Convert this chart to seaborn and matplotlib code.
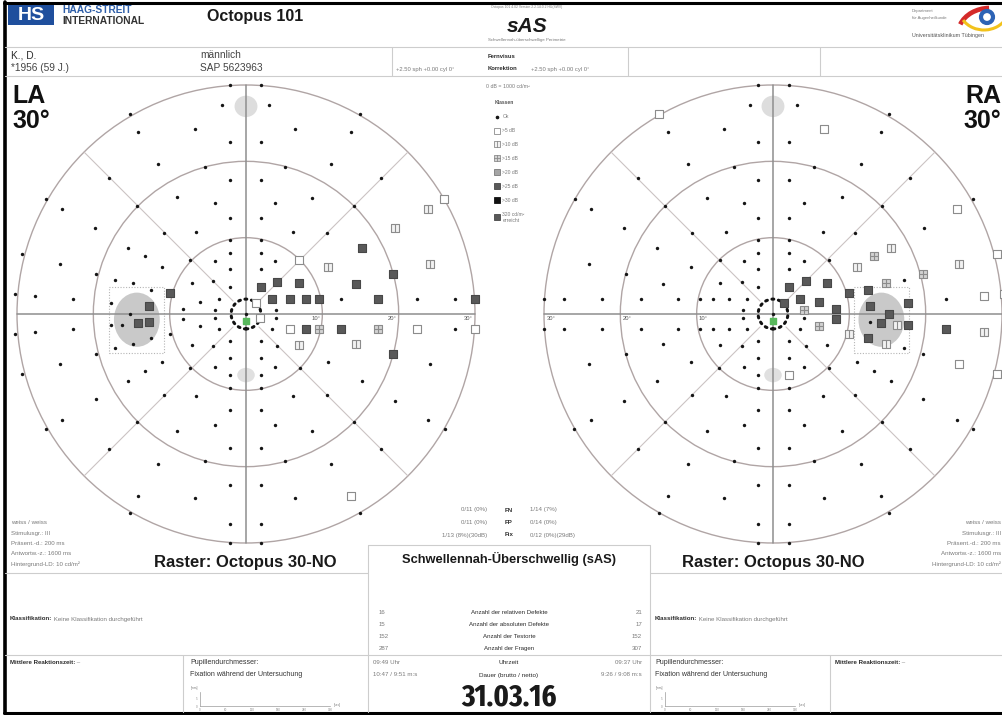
import os
import matplotlib
matplotlib.use("Agg")
import numpy as np
import pandas as pd
import matplotlib.pyplot as plt
import seaborn as sns
from matplotlib.patches import Circle, Ellipse, Rectangle, Arc
from matplotlib.lines import Line2D
from matplotlib.path import Path
from matplotlib import font_manager
from matplotlib.font_manager import FontProperties

# ---------------------------------------------------------------- data
# test locations in degrees (x = horizontal, y = vertical); class codes:
# 1 = >5 dB, 2 = >10 dB, 3 = >15 dB, 5 = >25 dB
LA_OK = [
    (1.9, 30.0), (-2.1, 30.0), (3.0, 27.4), (-3.1, 27.4), (1.9, 22.5), (-2.1, 22.5),
    (1.9, 17.5), (-2.1, 17.5), (1.9, 12.6), (-2.1, 12.6), (1.9, 9.7), (-2.1, 9.7),
    (1.9, 8.0), (-2.1, 8.0), (1.9, 5.9), (-2.1, 5.9), (-2.1, 3.6), (0.0, 0.0),
    (1.9, -3.6), (-2.1, -3.6), (1.9, -5.8), (-2.1, -5.8), (1.9, -8.0), (-2.1, -8.0),
    (1.9, -9.7), (-2.1, -9.7), (1.9, -12.6), (-2.1, -12.6), (1.9, -17.5), (-2.1, -17.5),
    (1.9, -22.4), (-2.1, -22.4), (1.9, -27.5), (-2.1, -27.5), (1.9, -30.0), (-2.1, -30.0),
    (14.9, 26.2), (6.4, 24.2), (13.8, 23.8), (5.1, 19.3), (11.2, 19.6), (17.7, 17.8),
    (3.8, 14.5), (8.7, 15.2), (14.1, 14.1), (6.1, 10.8), (10.6, 10.6), (3.8, 6.9),
    (12.4, 2.0), (22.4, 2.0), (27.4, 2.0), (3.9, 0.5),
    (3.4, -2.0), (27.4, -2.0), (3.9, -0.5), (4.1, -4.2), (3.8, -6.9), (7.1, -7.1),
    (10.8, -6.3), (24.1, -6.5), (15.2, -8.8), (6.2, -10.8), (10.6, -10.6), (19.5, -11.4),
    (3.8, -14.6), (8.7, -15.3), (14.1, -14.2), (23.8, -13.9), (26.1, -15.1), (5.1, -19.3),
    (11.1, -19.6), (17.7, -17.7), (6.4, -24.1), (14.9, -26.1),
    (-15.2, 26.2), (-6.7, 24.2), (-14.1, 23.8), (-5.4, 19.3), (-11.5, 19.6), (-17.9, 17.8),
    (-26.2, 15.1), (-24.1, 13.8), (-4.1, 14.5), (-9.0, 15.3), (-14.3, 14.1), (-6.5, 10.8),
    (-10.8, 10.6), (-19.8, 11.3), (-15.4, 8.7), (-4.1, 6.9), (-7.3, 7.1), (-11.0, 6.2),
    (-13.2, 7.6), (-24.4, 6.6), (-29.4, 7.9), (-19.6, 5.2), (-17.2, 4.5), (-14.8, 4.0),
    (-12.4, 3.2), (-7.1, 4.1), (-4.3, 4.3), (-3.6, 2.0), (-6.0, 1.6), (-8.2, 0.7),
    (-4.1, 0.5), (-17.7, 1.5), (-22.6, 2.0), (-27.7, 2.4), (-30.2, 2.6), (-15.2, 0.0),
    (-3.6, -2.0), (-6.0, -1.6), (-8.2, -0.7), (-4.1, -0.5), (-9.9, -2.6), (-12.4, -3.1),
    (-16.2, -1.4), (-17.7, -1.5), (-14.8, -3.9), (-17.2, -4.5), (-22.6, -2.0), (-27.7, -2.4),
    (-30.2, -2.6), (-7.1, -4.0), (-4.3, -4.2), (-4.1, -6.9), (-7.3, -7.1), (-11.0, -6.3),
    (-13.2, -7.5), (-15.4, -8.8), (-19.6, -5.2), (-24.4, -6.5), (-29.4, -7.8), (-6.5, -10.8),
    (-10.8, -10.6), (-19.6, -11.2), (-4.1, -14.6), (-9.0, -15.3), (-14.3, -14.2), (-24.1, -13.9),
    (-26.2, -15.1), (-5.4, -19.3), (-11.5, -19.6), (-17.9, -17.7), (-6.7, -24.1), (-14.1, -23.9),
    (-15.2, -26.1),
]
LA_DEFECTS = [
    (1.9, 3.6, 5), (1.3, 1.4, 1), (1.8, -0.5, 1),
    (26.0, 15.1, 1), (23.8, 13.8, 2), (19.5, 11.3, 2), (15.2, 8.7, 5), (7.0, 7.1, 1),
    (10.7, 6.2, 2), (24.1, 6.6, 2), (4.1, 4.2, 5), (6.9, 4.0, 5), (14.4, 3.9, 5), (19.3, 5.2, 5),
    (3.4, 2.0, 5), (5.7, 2.0, 5), (7.9, 2.0, 5), (9.6, 2.0, 5), (17.3, 2.0, 5), (30.0, 2.0, 5),
    (5.7, -2.0, 1), (7.9, -2.0, 5), (9.6, -2.0, 3), (12.4, -2.0, 5), (17.3, -2.0, 3),
    (22.4, -2.0, 1), (30.0, -2.0, 1), (6.9, -4.0, 2), (14.4, -3.9, 2), (19.3, -5.2, 5),
    (13.8, -23.9, 1),
    (-9.9, 2.7, 5), (-12.7, 1.1, 5), (-12.7, -1.0, 5), (-14.1, -1.2, 5),
]
RA_OK = [
    (-1.9, 30.0), (2.1, 30.0), (-3.0, 27.4), (3.1, 27.4), (-1.9, 22.5), (2.1, 22.5),
    (-1.9, 17.5), (2.1, 17.5), (-1.9, 12.6), (2.1, 12.6), (-1.9, 9.7), (2.1, 9.7),
    (-1.9, 8.0), (2.1, 8.0), (-1.9, 5.9), (2.1, 5.9), (-1.9, 3.6), (0.0, 0.0),
    (-1.9, -3.6), (2.1, -3.6), (-1.9, -5.8), (2.1, -5.8), (-1.9, -8.0),
    (-1.9, -9.7), (2.1, -9.7), (-1.9, -12.6), (2.1, -12.6), (-1.9, -17.5), (2.1, -17.5),
    (-1.9, -22.4), (2.1, -22.4), (-1.9, -27.5), (2.1, -27.5), (-1.9, -30.0), (2.1, -30.0),
    (-6.4, 24.2), (-13.8, 23.8), (-5.1, 19.3), (-11.2, 19.6), (-17.7, 17.8), (-26.0, 15.1),
    (-23.8, 13.8), (-3.8, 14.5), (-8.7, 15.2), (-14.1, 14.1), (-6.1, 10.8), (-10.6, 10.6),
    (-19.5, 11.3), (-15.2, 8.7), (-3.8, 6.9), (-7.0, 7.1), (-10.7, 6.2), (-24.1, 6.6),
    (-4.1, 4.2), (-6.9, 4.0), (-14.4, 3.9), (-19.3, 5.2),
    (-3.4, 2.0), (-5.7, 2.0), (-7.9, 2.0), (-9.6, 2.0), (-12.4, 2.0), (-17.3, 2.0),
    (-22.4, 2.0), (-27.4, 2.0), (-30.0, 2.0), (-3.9, 0.5),
    (-3.4, -2.0), (-5.7, -2.0), (-7.9, -2.0), (-9.6, -2.0), (-12.4, -2.0), (-17.3, -2.0),
    (-22.4, -2.0), (-27.4, -2.0), (-30.0, -2.0), (-3.9, -0.5),
    (-4.1, -4.2), (-6.9, -4.0), (-14.4, -3.9), (-19.3, -5.2), (-3.8, -6.9), (-7.1, -7.1),
    (-10.8, -6.3), (-24.1, -6.5), (-15.2, -8.8), (-6.2, -10.8), (-10.6, -10.6), (-19.5, -11.4),
    (-3.8, -14.6), (-8.7, -15.3), (-14.1, -14.2), (-23.8, -13.9), (-26.1, -15.1), (-5.1, -19.3),
    (-11.1, -19.6), (-17.7, -17.7), (-6.4, -24.1), (-13.8, -23.9), (-14.9, -26.1),
    (15.2, 26.2), (14.1, 23.8), (5.4, 19.3), (11.5, 19.6), (17.9, 17.8), (26.2, 15.1),
    (4.1, 14.5), (9.0, 15.3), (14.3, 14.1), (6.5, 10.8), (10.8, 10.6), (19.8, 11.3),
    (4.1, 6.9), (7.3, 7.1), (17.2, 4.5), (22.6, 2.0),
    (3.6, -2.0), (4.1, -0.5), (12.7, -1.0), (17.2, -4.5), (30.2, -2.6), (7.1, -4.0),
    (4.3, -4.2), (4.1, -6.9), (7.3, -7.1), (11.0, -6.3), (13.2, -7.5), (15.4, -8.8),
    (19.6, -5.2), (6.5, -10.8), (10.8, -10.6), (19.6, -11.2), (4.1, -14.6), (9.0, -15.3),
    (14.3, -14.2), (24.1, -13.9), (26.2, -15.1), (5.4, -19.3), (11.5, -19.6), (17.9, -17.7),
    (6.7, -24.1), (14.1, -23.9), (15.2, -26.1),
]
RA_DEFECTS = [
    (2.1, 3.6, 5), (2.1, -8.0, 1), (1.4, 1.4, 5), (-14.9, 26.2, 1),
    (6.7, 24.2, 1), (24.1, 13.8, 1), (15.4, 8.7, 2), (11.0, 6.2, 2), (13.2, 7.6, 3),
    (24.4, 6.6, 2), (29.4, 7.9, 1), (19.6, 5.2, 3), (14.8, 4.0, 3), (12.4, 3.2, 5),
    (9.9, 2.7, 5), (7.1, 4.1, 5), (4.3, 4.3, 5), (3.6, 2.0, 5), (6.0, 1.6, 5),
    (8.2, 0.7, 5), (4.1, 0.5, 3), (12.7, 1.1, 5), (17.7, 1.5, 5), (27.7, 2.4, 1),
    (30.2, 2.6, 1), (15.2, 0.0, 5),
    (6.0, -1.6, 3), (8.2, -0.7, 5), (9.9, -2.6, 2), (12.4, -3.1, 5), (14.1, -1.2, 5),
    (16.2, -1.4, 2), (17.7, -1.5, 5), (14.8, -3.9, 2), (22.6, -2.0, 5), (27.7, -2.4, 2),
    (24.4, -6.5, 1), (29.4, -7.8, 1),
]

CLASS_LABELS = ["Ok", ">5 dB", ">10 dB", ">15 dB", ">20 dB", ">25 dB", ">30 dB"]
STIM_INFO = ["weiss / weiss", "Stimulusgr.: III", "Präsent.-d.: 200 ms",
             "Antwortw.-z.: 1600 ms", "Hintergrund-LD: 10 cd/m²"]
STAT_LABELS = ["Anzahl der relativen Defekte", "Anzahl der absoluten Defekte",
               "Anzahl der Testorte", "Anzahl der Fragen"]
STAT_LA = ["16", "15", "152", "287"]
STAT_RA = ["21", "17", "152", "307"]
RELIAB_LA = ["0/11 (0%)", "0/11 (0%)", "1/13 (8%)(30dB)"]
RELIAB_KEYS = ["FN", "FP", "Fix"]
RELIAB_RA = ["1/14 (7%)", "0/14 (0%)", "0/12 (0%)(29dB)"]

# ---------------------------------------------------------------- style
W, H = 1003, 715
sns.set_theme(style="white")
plt.rcParams["font.family"] = ["Liberation Sans", "DejaVu Sans"]
plt.rcParams["axes.unicode_minus"] = False


def narrow_bold_font():
    """Pick the narrowest installed bold sans face for the date line."""
    best = None
    for f in font_manager.fontManager.ttflist:
        base = os.path.basename(f.fname).lower().replace("-", "").replace("_", "")
        if "bold" not in base or any(w in base for w in
                                     ("italic", "oblique", "extrabold", "semibold",
                                      "ultrabold", "demibold", "mono", "serif")):
            continue
        if "extracondensed" in base:
            rank = 0
        elif "narrow" in base:
            rank = 1
        elif "semicondensed" in base:
            rank = 3
        elif "condensed" in base:
            rank = 2
        else:
            continue
        if best is None or rank < best[0]:
            best = (rank, f.fname)
    if best is None:
        return FontProperties(family="Liberation Sans", weight="bold")
    return FontProperties(fname=best[1])


GREY_TXT = "#7a7a7a"
DARK_TXT = "#2b2b2b"
LINE = "#cdcdcd"

_sq = [(-.5, -.5), (.5, -.5), (.5, .5), (-.5, .5), (-.5, -.5)]
_sqc = [Path.MOVETO, Path.LINETO, Path.LINETO, Path.LINETO, Path.CLOSEPOLY]
MARK_10 = Path(_sq + [(0, -.5), (0, .5)], _sqc + [Path.MOVETO, Path.LINETO])
MARK_15 = Path(_sq + [(0, -.5), (0, .5), (-.5, 0), (.5, 0)],
               _sqc + [Path.MOVETO, Path.LINETO, Path.MOVETO, Path.LINETO])
CLASS_STYLE = {
    1: dict(marker="s", fc="white", ec="#8c8c8c"),
    2: dict(marker=MARK_10, fc="#f2f2f2", ec="#8c8c8c"),
    3: dict(marker=MARK_15, fc="#d2d2d2", ec="#8c8c8c"),
    4: dict(marker="s", fc="#a5a5a5", ec="#7a7a7a"),
    5: dict(marker="s", fc="#595959", ec="#474747"),
    6: dict(marker="s", fc="#111111", ec="#111111"),
}

fig = plt.figure(figsize=(W / 100, H / 100), dpi=100)
fig.patch.set_facecolor("white")
page = fig.add_axes([0, 0, 1, 1])
page.set_xlim(0, W)
page.set_ylim(H, 0)
page.axis("off")

SCALE = 229 / 30.0  # pixels per degree


def field_axes(cx, cy, x0, x1, y0, y1):
    ax = fig.add_axes([x0 / W, 1 - y1 / H, (x1 - x0) / W, (y1 - y0) / H])
    ax.set_xlim((x0 - cx) / SCALE, (x1 - cx) / SCALE)
    ax.set_ylim((cy - y1) / SCALE, (cy - y0) / SCALE)
    ax.axis("off")
    ax.patch.set_alpha(0)
    return ax


def draw_field(ax, ok, defects, blind_x, side):
    ok_df = pd.DataFrame(ok, columns=["x", "y"])
    df = pd.DataFrame(defects, columns=["x", "y", "k"])
    # faint grey helper zones
    ax.add_patch(Ellipse((0, 27.2), 3.0, 2.8, fc="#dddddd", ec="none", zorder=0))
    ax.add_patch(Ellipse((0, -8.0), 2.3, 1.9, fc="#e0e0e0", ec="none", zorder=0))
    ax.add_patch(Ellipse((blind_x, -0.75), 6.0, 7.1, fc="#c9c9c9", ec="none", zorder=0))
    rx = blind_x - 3.6
    ax.add_patch(Rectangle((rx, -5.1), 7.2, 8.7, fill=False, ec="#b5b5b5",
                           ls=(0, (1, 1.5)), lw=0.8, zorder=1))
    for r in (10, 20, 30):
        ax.add_patch(Circle((0, 0), r, fill=False, ec="#b0a5a5", lw=1.0, zorder=1))
    for ang in (45, 135, 225, 315):
        t = np.deg2rad(ang)
        ax.plot([2.4 * np.cos(t), 30 * np.cos(t)], [2.4 * np.sin(t), 30 * np.sin(t)],
                color="#cbc3c3", lw=0.8, zorder=1)
    ax.plot([-30, 30], [0, 0], color="#8e8e8e", lw=1.1, zorder=2)
    ax.plot([0, 0], [-30, 30], color="#8e8e8e", lw=1.1, zorder=2)
    ax.add_patch(Circle((0, 0), 1.95, fill=False, ec="#111111", lw=2.2,
                        ls=(0, (0.6, 1.55)), capstyle="round", zorder=4))
    for r in (10, 20, 30):
        if side == "right":
            ax.text(r - 0.3, -0.3, f"{r}°", ha="right", va="top", fontsize=4.2,
                    color="#555555", zorder=3)
        else:
            ax.text(-r + 0.3, -0.3, f"{r}°", ha="left", va="top", fontsize=4.2,
                    color="#555555", zorder=3)
    sns.scatterplot(data=ok_df, x="x", y="y", ax=ax, marker="o", s=6,
                    color="#151515", linewidth=0, legend=False, zorder=5)
    for k, sub in df.groupby("k"):
        st = CLASS_STYLE[k]
        sns.scatterplot(data=sub, x="x", y="y", ax=ax, marker=st["marker"], s=34,
                        color=st["fc"], edgecolor=st["ec"], linewidth=0.8,
                        legend=False, zorder=6)
    ax.scatter([0], [-0.9], marker="s", s=14, color="#58b85c", zorder=7)
    ax.set_xlabel("")
    ax.set_ylabel("")


ax_la = field_axes(246, 314, 8, 486, 80, 548)
draw_field(ax_la, LA_OK, LA_DEFECTS, -14.3, "right")
ax_ra = field_axes(773, 314, 535, 1003, 80, 548)
draw_field(ax_ra, RA_OK, RA_DEFECTS, 14.2, "left")

# ---------------------------------------------------------------- page frame
page.plot([4, W], [2.5, 2.5], color="black", lw=2.2, zorder=1)
page.plot([5, 5], [2, 713], color="black", lw=2.6, zorder=1)
page.plot([4, W], [712.5, 712.5], color="black", lw=2.2, zorder=1)
page.plot([5, W], [47, 47], color=LINE, lw=0.8)
page.plot([5, W], [76, 76], color=LINE, lw=0.8)
for xv in (392, 628, 820):
    page.plot([xv, xv], [47, 76], color=LINE, lw=0.8)
page.plot([5, 368], [573, 573], color=LINE, lw=0.8)
page.plot([650, W], [573, 573], color=LINE, lw=0.8)
page.plot([368, 650], [545, 545], color=LINE, lw=0.8)
page.plot([368, 368], [545, 712], color=LINE, lw=0.8)
page.plot([650, 650], [545, 712], color=LINE, lw=0.8)
page.plot([5, W], [655, 655], color=LINE, lw=0.8)
page.plot([183, 183], [655, 712], color=LINE, lw=0.8)
page.plot([830, 830], [655, 712], color=LINE, lw=0.8)

# ---------------------------------------------------------------- header
page.add_patch(Rectangle((8, 5), 46, 20, fc="#1f4f9d", ec="none"))
page.text(31, 15.5, "HS", color="white", fontsize=14, fontweight="bold",
          ha="center", va="center")
page.text(62, 10, "HAAG-STREIT", color="#2e5ea8", fontsize=7.4, fontweight="bold",
          va="center")
page.text(62, 20.5, "INTERNATIONAL", color="#333333", fontsize=7.4, fontweight="bold",
          va="center")
page.text(207, 17, "Octopus 101", color="#1a1a1a", fontsize=11.5, fontweight="bold",
          va="center")
page.text(527, 7, "Octopus 101 4.02 Version 2.2.14.0.2 HU(SWV)", color=GREY_TXT,
          fontsize=2.4, ha="center", va="center")
page.text(527, 27, "sAS", color="#1a1a1a", fontsize=15, fontweight="bold",
          style="italic", ha="center", va="center")
page.text(527, 40, "Schwellennah-überschwellige Perimetrie", color=GREY_TXT,
          fontsize=3.2, ha="center", va="center")
# university logo
page.add_patch(Arc((990, 34), 64, 52, theta1=198, theta2=268, color="#d42a2a", lw=3.4))
page.add_patch(Circle((987, 17), 6.0, fill=False, ec="#2d63b5", lw=3.0))
page.add_patch(Arc((984, 8), 50, 44, theta1=25, theta2=150, color="#f2c21b", lw=2.2))
page.text(912, 11, "Department", color=GREY_TXT, fontsize=3.0, va="center")
page.text(912, 18, "für Augenheilkunde", color=GREY_TXT, fontsize=3.0, va="center")
page.text(912, 35, "Universitätsklinikum Tübingen", color="#555555", fontsize=3.9,
          va="center")

# patient row
page.text(11, 55, "K., D.", color=DARK_TXT, fontsize=7.3, va="center")
page.text(11, 68, "*1956 (59 J.)", color="#444444", fontsize=7.3, va="center")
page.text(200, 55, "männlich", color="#444444", fontsize=7.3, va="center")
page.text(200, 68, "SAP 5623963", color="#444444", fontsize=7.3, va="center")
page.text(488, 56, "Fernvisus", color=DARK_TXT, fontsize=4.2, fontweight="bold",
          va="center")
page.text(396, 69, "+2.50 sph +0.00 cyl 0°", color=GREY_TXT, fontsize=4.2, va="center")
page.text(488, 69, "Korrektion", color=DARK_TXT, fontsize=4.2, fontweight="bold",
          va="center")
page.text(531, 69, "+2.50 sph +0.00 cyl 0°", color=GREY_TXT, fontsize=4.2, va="center")

# eye labels
page.text(12, 84, "LA", color="#111111", fontsize=18, fontweight="bold", va="top")
page.text(12, 109, "30°", color="#111111", fontsize=18, fontweight="bold", va="top")
page.text(1001, 84, "RA", color="#111111", fontsize=18, fontweight="bold", va="top",
          ha="right")
page.text(1001, 109, "30°", color="#111111", fontsize=18, fontweight="bold", va="top",
          ha="right")

# class legend
page.text(508, 87, "0 dB = 1000 cd/m²", color=GREY_TXT, fontsize=3.8,
          ha="center", va="center")
handles = [Line2D([], [], ls="none", marker="o", ms=1.6, mfc="#151515", mec="#151515")]
for k in range(1, 7):
    st = CLASS_STYLE[k]
    handles.append(Line2D([], [], ls="none", marker=st["marker"], ms=4.2,
                          mfc=st["fc"], mec=st["ec"], mew=0.6))
handles.append(Line2D([], [], ls="none", marker="s", ms=4.2, mfc="#595959",
                      mec="#474747", mew=0.6))
labels = CLASS_LABELS + ["320 cd/m²\nerreicht"]
leg = fig.legend(handles, labels, loc="upper left",
                 bbox_to_anchor=(495 / W, 1 - 100.5 / H), frameon=False,
                 prop={"size": 3.6}, labelcolor=GREY_TXT, title="Klassen",
                 title_fontproperties={"size": 3.6, "weight": "bold"},
                 handlelength=0.9, handletextpad=0.6, labelspacing=1.78,
                 borderpad=0, borderaxespad=0, alignment="left")
leg.get_title().set_color("#555555")

# stimulus parameters
for i, s in enumerate(STIM_INFO):
    page.text(11, 523 + i * 10.3, s, color=GREY_TXT, fontsize=4.4, va="center")
    page.text(1001, 523 + i * 10.3, s, color=GREY_TXT, fontsize=4.4, va="center",
              ha="right")
page.text(245, 563, "Raster: Octopus 30-NO", color="#1a1a1a", fontsize=12,
          fontweight="bold", ha="center", va="center")
page.text(773, 563, "Raster: Octopus 30-NO", color="#1a1a1a", fontsize=12,
          fontweight="bold", ha="center", va="center")

# reliability
for i in range(3):
    yy = 510 + i * 12.5
    page.text(487, yy, RELIAB_LA[i], color=GREY_TXT, fontsize=4.4, ha="right", va="center")
    page.text(505, yy, RELIAB_KEYS[i], color=DARK_TXT, fontsize=4.4, fontweight="bold",
              va="center")
    page.text(530, yy, RELIAB_RA[i], color=GREY_TXT, fontsize=4.4, va="center")

# central summary box
page.text(509, 559, "Schwellennah-Überschwellig (sAS)", color="#1a1a1a", fontsize=9.3,
          fontweight="bold", ha="center", va="center")
for i in range(4):
    yy = 612 + i * 12.2
    page.text(379, yy, STAT_LA[i], color=GREY_TXT, fontsize=4.4, va="center")
    page.text(509, yy, STAT_LABELS[i], color=DARK_TXT, fontsize=4.4, ha="center",
              va="center")
    page.text(642, yy, STAT_RA[i], color=GREY_TXT, fontsize=4.4, ha="right", va="center")

# classification
for x0 in (10, 655):
    t1 = page.text(x0, 619, "Klassifikation:", color=DARK_TXT, fontsize=4.4,
                   fontweight="bold", va="center")
    page.annotate(" Keine Klassifikation durchgeführt", xy=(1, 0.5), xycoords=t1,
                  color=GREY_TXT, fontsize=4.4, va="center")

# bottom row
for x0 in (10, 835):
    t1 = page.text(x0, 663, "Mittlere Reaktionszeit:", color=DARK_TXT, fontsize=4.4,
                   fontweight="bold", va="center")
    page.annotate(" –", xy=(1, 0.5), xycoords=t1, color=GREY_TXT, fontsize=4.4,
                  va="center")
for x0 in (190, 655):
    page.text(x0, 663, "Pupillendurchmesser:", color="#333333", fontsize=5.0, va="center")
    page.text(x0, 675, "Fixation während der Untersuchung", color="#333333",
              fontsize=5.0, va="center")
page.text(373, 663, "09:49 Uhr", color=GREY_TXT, fontsize=4.4, va="center")
page.text(373, 675, "10:47 / 9:51 m:s", color=GREY_TXT, fontsize=4.4, va="center")
page.text(509, 663, "Uhrzeit", color=DARK_TXT, fontsize=4.6, ha="center", va="center")
page.text(509, 675, "Dauer (brutto / netto)", color=DARK_TXT, fontsize=4.6, ha="center",
          va="center")
page.text(642, 663, "09:37 Uhr", color=GREY_TXT, fontsize=4.4, ha="right", va="center")
page.text(642, 675, "9:26 / 9:08 m:s", color=GREY_TXT, fontsize=4.4, ha="right",
          va="center")

# date line: narrow bold face, sized to the column width
date_fp = narrow_bold_font()
date_fp.set_size(27)
date_txt = page.text(509, 697, "31.03.16", color="#1a1a1a", ha="center", va="center",
                     fontproperties=date_fp)
renderer = fig.canvas.get_renderer()
wpx = date_txt.get_window_extent(renderer).width
if wpx > 96:
    date_fp.set_size(27 * 96 / wpx)
    date_txt.set_fontproperties(date_fp)

# small pupil / fixation strips
for x0 in (200, 665):
    mini = fig.add_axes([x0 / W, 1 - 706 / H, 130 / W, 14 / H])
    mini.set_xlim(0, 300)
    mini.set_ylim(0, 10)
    mini.patch.set_alpha(0)
    for sp in ("top", "right"):
        mini.spines[sp].set_visible(False)
    for sp in ("left", "bottom"):
        mini.spines[sp].set_color("#9a9a9a")
        mini.spines[sp].set_linewidth(0.5)
    mini.set_xticks([0, 60, 120, 180, 240, 300])
    mini.set_xticklabels(["0", "60", "120", "180", "240", "300"])
    mini.set_yticks([0, 5])
    mini.set_yticklabels(["0", "5"])
    mini.tick_params(labelsize=2.2, colors="#8a8a8a", length=1, width=0.4, pad=0.5)
    page.text(x0 - 9, 688, "[mm]", fontsize=2.4, color=GREY_TXT, va="center")
    page.text(x0 + 134, 705, "[sec]", fontsize=2.4, color=GREY_TXT, va="center")

fig.savefig("out.png", dpi=100, facecolor="white")
